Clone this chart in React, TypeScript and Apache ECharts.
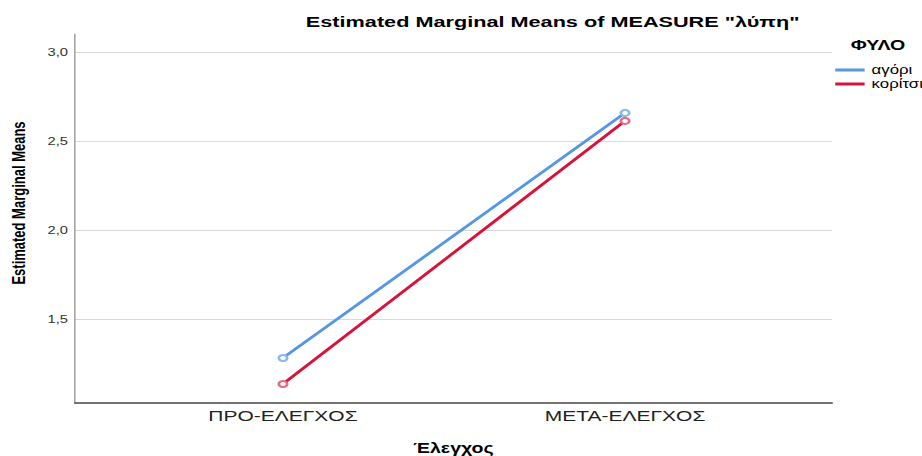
import React, { useEffect, useRef } from "react";
import * as echarts from "echarts";

const categories = ["ΠΡΟ-ΕΛΕΓΧΟΣ", "ΜΕΤΑ-ΕΛΕΓΧΟΣ"];
const seriesNames = ["αγόρι", "κορίτσι"];
const boysValues = [1.281, 2.657];
const girlsValues = [1.135, 2.612];
const yTicks = [1.5, 2.0, 2.5, 3.0];
const colors = ["#5597e3", "#d7133a"];
const markerColors = ["#8ab8f0", "#e56b82"];

// the reference image is horizontally stretched; draw narrower and stretch with CSS
const PAGE_W = 922;
const CHART_W = 659;
const STRETCH = PAGE_W / CHART_W;

export default function App() {
  const ref = useRef<HTMLDivElement>(null);
  useEffect(() => {
    if (!ref.current) return;
    const chart = echarts.init(ref.current, null, { renderer: "svg" });
    const font = "'Liberation Sans', Arial, sans-serif";
    const mk = (vals: number[]) => vals.map((v, i) => [i + 1, v]);
    chart.setOption({
      animation: false,
      backgroundColor: "#ffffff",
      textStyle: { fontFamily: font },
      title: [
        {
          text: 'Estimated Marginal Means of MEASURE "λύπη"',
          left: 390,
          top: 9,
          textAlign: "center",
          textStyle: { fontFamily: font, fontSize: 15.5, fontWeight: "bold", color: "#000" },
        },
        {
          text: "ΦΥΛΟ",
          left: 608,
          top: 38,
          padding: 0,
          textStyle: { fontFamily: font, fontSize: 14, fontWeight: "bold", color: "#000" },
        },
      ],
      graphic: [
        {
          type: "text",
          x: 13.6,
          y: 203,
          rotation: Math.PI / 2,
          style: {
            text: "Estimated Marginal Means",
            fontFamily: font,
            fontSize: 13,
            fontWeight: "bold",
            fill: "#000",
            align: "center",
            verticalAlign: "middle",
          },
        },
      ],
      legend: {
        orient: "vertical",
        left: 597,
        top: 63.5,
        padding: 0,
        itemWidth: 21,
        itemHeight: 3,
        itemGap: 1,
        icon: "rect",
        itemStyle: { borderWidth: 0 },
        textStyle: { fontFamily: font, fontSize: 12, lineHeight: 13, color: "#000" },
        data: [
          { name: seriesNames[0], itemStyle: { color: colors[0], borderWidth: 0 } },
          { name: seriesNames[1], itemStyle: { color: colors[1], borderWidth: 0 } },
        ],
      },
      grid: { left: 53.6, right: 64.3, top: 34, bottom: 53, outerBoundsMode: "none", containLabel: false },
      xAxis: {
        type: "value",
        min: 0.392,
        max: 2.605,
        name: "Έλεγχος",
        nameLocation: "middle",
        nameGap: 38,
        nameTextStyle: { fontFamily: font, fontSize: 14, fontWeight: "bold", color: "#000" },
        axisLine: { show: true, onZero: false, lineStyle: { color: "#444", width: 1.5 } },
        axisTick: { show: false },
        splitLine: { show: false },
        axisLabel: {
          customValues: [1, 2],
          formatter: (v: number) => categories[Math.round(v) - 1] ?? "",
          fontFamily: font,
          fontSize: 15,
          color: "#222",
          margin: 5,
        },
      },
      yAxis: {
        type: "value",
        min: 1.028,
        max: 3.1,
        axisLine: { show: true, lineStyle: { color: "#999", width: 1 } },
        axisTick: { show: false, customValues: yTicks },
        splitLine: { show: true, lineStyle: { color: "#d9d9d9", width: 1 } },
        axisLabel: {
          customValues: yTicks,
          formatter: (v: number) => v.toFixed(1).replace(".", ","),
          fontFamily: font,
          fontSize: 10.5,
          color: "#333",
          margin: 5,
        },
      },
      series: [
        {
          name: seriesNames[0],
          type: "line",
          data: mk(boysValues),
          lineStyle: { width: 2.5, color: colors[0] },
          symbol: "emptyCircle",
          symbolSize: 6,
          itemStyle: { color: markerColors[0], borderWidth: 1.2 },
        },
        {
          name: seriesNames[1],
          type: "line",
          data: mk(girlsValues),
          lineStyle: { width: 2.5, color: colors[1] },
          symbol: "emptyCircle",
          symbolSize: 6,
          itemStyle: { color: markerColors[1], borderWidth: 1.2 },
        },
      ],
    });
    return () => chart.dispose();
  }, []);
  return (
    <div style={{ position: "absolute", left: 0, top: 0, width: PAGE_W, height: 456, overflow: "hidden", background: "#fff" }}>
      <div
        ref={ref}
        style={{ width: CHART_W, height: 456, transform: `scaleX(${STRETCH})`, transformOrigin: "0 0" }}
      />
    </div>
  );
}
